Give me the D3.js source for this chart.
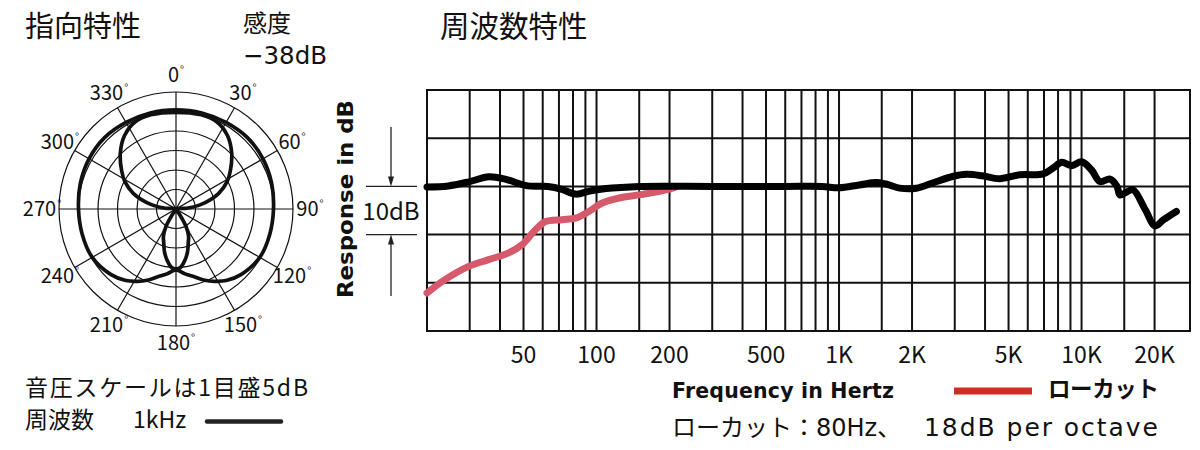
<!DOCTYPE html>
<html><head><meta charset="utf-8">
<script src="https://cdn.jsdelivr.net/npm/d3@7"></script>
<style>
body{margin:0;background:#fff;}
svg{display:block;}
text{fill:#111;}
</style></head><body>
<svg id="c" width="1200" height="450"></svg>
<script>
// ---------- data ----------
const polarOuterDeg = [0,15,30,45,60,75,90,105,120,135,145,152,158,165,172,180,188,195,202,208,215,225,240,255,270,285,300,315,330,345];
const polarOuterDb  = [0.4,0.5,0.65,0.9,0.75,0.4,0,-0.1,-0.2,-1.3,-2.6,-4.0,-5.3,-7.0,-8.2,-9.4,-8.2,-7.0,-5.3,-4.0,-2.6,-1.3,-0.2,-0.1,0,0.4,0.75,0.9,0.65,0.5];
const polarInnerDeg = [0,15,25,35,45,55,62,70,80,86,90,146,150,155,160,165,170,175,180,185,190,195,200,205,210,214,270,274,280,290,298,305,315,325,335,345];
const polarInnerDb  = [-0.2,0,-0.3,-2.0,-4.8,-8.0,-10.2,-13.4,-18.6,-22.3,-25,-23.4,-19.9,-17.4,-15.8,-13.6,-11.7,-10.1,-9.4,-10.1,-11.7,-13.6,-15.8,-17.4,-19.9,-23.4,-25,-22.3,-18.6,-13.4,-10.2,-8.0,-4.8,-2.0,-0.3,0];
const polarRingDb = [-20,-15,-10,-5,0,5];
const polarSpokeDeg = [0,30,60,90,120,150];
const polarLabelDeg = [0,30,60,90,120,150,180,210,240,270,300,330];

const freqHz = [20,24.5,30,36,42,52,63,72,82,95,116,150,300,600,850,1000,1210,1420,1560,1775,2080,2430,2940,3350,3900,4600,5560,6940,7630,8270,9090,10000,11000,11900,13100,14000,14400,15300,16300,18300,20100,21800,24600];
const responseDb = [-0.1,0.1,1.0,2.0,1.5,0.1,0,-0.6,-1.6,-0.9,-0.35,0,0,0,0,-0.3,0.3,0.8,0.5,-0.35,-0.4,0.7,2.05,2.5,2.2,1.6,2.4,2.6,3.8,5.0,4.3,5.1,3.4,1.0,1.5,0,-1.8,-1.2,-0.7,-4.8,-8.2,-6.9,-5.2];
const lowCutHz = [20,23.8,29.7,35.9,43.4,49.3,56,61.6,72,82,93,105,124,152,198,215];
const lowCutDb = [-22.1,-19.3,-16.6,-15.2,-13.8,-12.1,-9.0,-7.3,-6.9,-6.6,-5.2,-3.5,-2.4,-1.7,-0.6,0];
const gridHz = [30,40,50,60,70,80,90,100,150,200,300,400,500,600,700,800,900,1000,1500,2000,3000,4000,5000,6000,7000,8000,9000,10000,15000,20000];
const tickHz = [50,100,200,500,1000,2000,5000,10000,20000];
const tickLabels = ["50","100","200","500","1K","2K","5K","10K","20K"];
const gridDb = [-20,-10,0,10];

// ---------- drawing ----------
const svg = d3.select("#c");
const ink = "#111";
const cjk = "'Noto Sans CJK JP','Noto Sans',sans-serif";
const latin = "'DejaVu Sans','Noto Sans CJK JP',sans-serif";
function txt(sel, family){ return sel.append("text").style("font-family", family || cjk); }

// Titles
txt(svg).attr("x",25).attr("y",37).attr("font-size",29).text("指向特性");
txt(svg).attr("x",243).attr("y",32).attr("font-size",24).text("感度");
txt(svg, latin).attr("x",243).attr("y",64).attr("font-size",24.5).text("−38dB");
txt(svg).attr("x",440).attr("y",37).attr("font-size",29.5).text("周波数特性");

// ---- Polar ----
const cx = 176, cy = 209, R = 117;
const rScale = d3.scaleLinear().domain([-25,5]).range([0,R]).clamp(true);
const pg = svg.append("g").attr("transform",`translate(${cx},${cy})`);
pg.selectAll("circle.ring").data(polarRingDb).join("circle")
  .attr("r",d=>rScale(d)).attr("fill","none").attr("stroke",ink).attr("stroke-width",1.2);
pg.selectAll("line.spoke").data(polarSpokeDeg).join("line")
  .attr("x1",d=>-R*Math.sin(d*Math.PI/180)).attr("y1",d=>R*Math.cos(d*Math.PI/180))
  .attr("x2",d=>R*Math.sin(d*Math.PI/180)).attr("y2",d=>-R*Math.cos(d*Math.PI/180))
  .attr("stroke",ink).attr("stroke-width",1.2);
const lblR = 134;
const lbl = pg.selectAll("text.plab").data(polarLabelDeg).join("text")
  .style("font-family",cjk)
  .attr("x",d=>lblR*Math.sin(d*Math.PI/180))
  .attr("y",d=>-lblR*Math.cos(d*Math.PI/180)+7)
  .attr("text-anchor","middle").attr("font-size",20);
lbl.append("tspan").text(d=>d);
lbl.append("tspan").attr("font-size",11).attr("dy",-8).attr("dx",1).text("°");

const radial = d3.lineRadial().curve(d3.curveCatmullRomClosed.alpha(0.5));
const outerPts = polarOuterDeg.map((a,i)=>[a*Math.PI/180, rScale(polarOuterDb[i])]);
const innerPts = polarInnerDeg.map((a,i)=>[a*Math.PI/180, rScale(polarInnerDb[i])]);
pg.append("path").attr("d",radial(outerPts)).attr("fill","none").attr("stroke",ink).attr("stroke-width",3.7).attr("stroke-linejoin","round");
pg.append("path").attr("d",radial(innerPts)).attr("fill","none").attr("stroke",ink).attr("stroke-width",3.7).attr("stroke-linejoin","round");

// polar legend texts
txt(svg).attr("x",25).attr("y",396).attr("font-size",23).attr("textLength",283).attr("lengthAdjust","spacing").text("音圧スケールは1目盛5dB");
txt(svg).attr("x",25).attr("y",428).attr("font-size",23).text("周波数");
txt(svg).attr("x",133).attr("y",428).attr("font-size",23).text("1kHz");
svg.append("line").attr("x1",207).attr("x2",281).attr("y1",421.5).attr("y2",421.5)
  .attr("stroke","#222").attr("stroke-width",4.5).attr("stroke-linecap","round");

// ---- Frequency response ----
const x = d3.scaleLog().domain([20,28000]).range([427,1190]);
const y = d3.scaleLinear().domain([-30,20]).range([331,90]);
const fg = svg.append("g");
fg.selectAll("line.v").data(gridHz).join("line")
  .attr("x1",d=>x(d)).attr("x2",d=>x(d)).attr("y1",y(-30)).attr("y2",y(20))
  .attr("stroke",ink).attr("stroke-width",2);
fg.selectAll("line.h").data(gridDb).join("line")
  .attr("x1",x(20)).attr("x2",x(28000)).attr("y1",d=>y(d)).attr("y2",d=>y(d))
  .attr("stroke",ink).attr("stroke-width",2);
fg.append("rect").attr("x",x(20)).attr("y",y(20)).attr("width",x(28000)-x(20)).attr("height",y(-30)-y(20))
  .attr("fill","none").attr("stroke",ink).attr("stroke-width",2);

// tick labels
fg.selectAll("text.tick").data(tickHz).join("text")
  .style("font-family",cjk)
  .attr("x",d=>x(d)).attr("y",363).attr("text-anchor","middle").attr("font-size",23)
  .text((d,i)=>tickLabels[i]);

const fline = d3.line().curve(d3.curveCatmullRom.alpha(0.5));
fg.append("path").attr("d",fline(lowCutHz.map((f,i)=>[x(f),y(lowCutDb[i])])))
  .attr("fill","none").attr("stroke","#d75a6c").attr("stroke-width",7).attr("stroke-linecap","round").attr("stroke-linejoin","round");
fg.append("path").attr("d",fline(freqHz.map((f,i)=>[x(f),y(responseDb[i])])))
  .attr("fill","none").attr("stroke","#000").attr("stroke-width",7).attr("stroke-linecap","round").attr("stroke-linejoin","round");

// 10dB bracket
const bx1 = 366, bx2 = 417, ax = 391;
[0,-10].forEach(v=>{
  fg.append("line").attr("x1",bx1).attr("x2",bx2).attr("y1",y(v)).attr("y2",y(v)).attr("stroke","#222").attr("stroke-width",1.3);
});
fg.append("line").attr("x1",ax).attr("x2",ax).attr("y1",127).attr("y2",y(0)-8).attr("stroke","#222").attr("stroke-width",1.3);
fg.append("path").attr("d",`M${ax-3},${y(0)-10}L${ax+3},${y(0)-10}L${ax},${y(0)}Z`).attr("fill","#222");
fg.append("line").attr("x1",ax).attr("x2",ax).attr("y1",y(-10)+8).attr("y2",296).attr("stroke","#222").attr("stroke-width",1.3);
fg.append("path").attr("d",`M${ax-3},${y(-10)+10}L${ax+3},${y(-10)+10}L${ax},${y(-10)}Z`).attr("fill","#222");
txt(fg).attr("x",391).attr("y",220).attr("text-anchor","middle").attr("font-size",24).text("10dB");

// axis titles
txt(svg, latin).attr("transform","translate(353,199) rotate(-90)").attr("text-anchor","middle")
  .attr("font-weight","bold").attr("font-size",22)
  .attr("textLength",198).attr("lengthAdjust","spacingAndGlyphs").text("Response in dB");
txt(svg, latin).attr("x",672).attr("y",398).attr("font-weight","bold").attr("font-size",20.5)
  .attr("textLength",222).attr("lengthAdjust","spacing").text("Frequency in Hertz");

// low cut legend
svg.append("line").attr("x1",954).attr("x2",1032).attr("y1",391).attr("y2",391).attr("stroke","#d12c26").attr("stroke-width",7);
txt(svg).attr("x",1048).attr("y",397).attr("font-size",22.5).attr("font-weight","bold")
  .attr("textLength",111).attr("lengthAdjust","spacing").text("ローカット");
txt(svg, latin).attr("x",672).attr("y",436).attr("font-size",24).text("ローカット：80Hz、");
txt(svg, latin).attr("x",924).attr("y",436).attr("font-size",25)
  .attr("textLength",234).attr("lengthAdjust","spacing").text("18dB per octave");
</script>
</body></html>
